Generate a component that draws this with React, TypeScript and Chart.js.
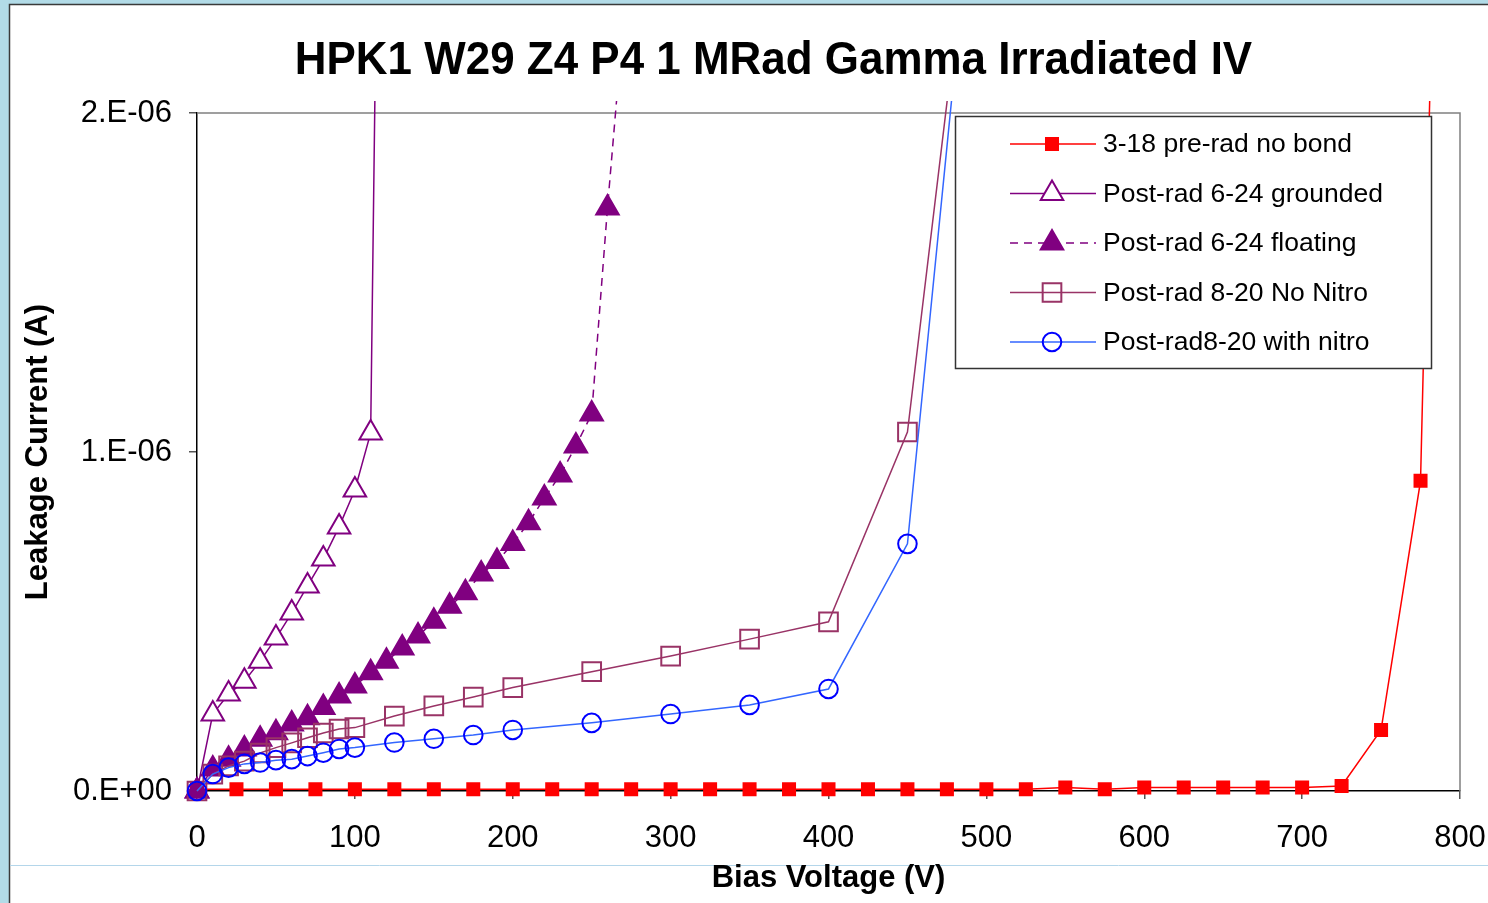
import React, { useEffect, useRef } from "react";
import { Chart, registerables } from "chart.js";

Chart.register(...registerables);

// ---------- data ----------
const chartTitle = "HPK1 W29 Z4 P4 1 MRad Gamma Irradiated IV";
const xAxisTitle = "Bias Voltage (V)";
const yAxisTitle = "Leakage Current (A)";
const yTickLabels = ["0.E+00", "1.E-06", "2.E-06"];

const seriesNames = [
  "3-18 pre-rad no bond",
  "Post-rad 6-24 grounded",
  "Post-rad 6-24 floating",
  "Post-rad 8-20 No Nitro",
  "Post-rad8-20 with nitro",
];

const preRadV = [0, 25, 50, 75, 100, 125, 150, 175, 200, 225, 250, 275, 300, 325, 350, 375, 400, 425, 450, 475, 500, 525, 550, 575, 600, 625, 650, 675, 700, 725, 750, 775, 785];
const preRadI = [5e-9, 5e-9, 5e-9, 5e-9, 5e-9, 5e-9, 5e-9, 5e-9, 5e-9, 5e-9, 5e-9, 5e-9, 5e-9, 5e-9, 5e-9, 5e-9, 5e-9, 5e-9, 5e-9, 5e-9, 5e-9, 5e-9, 1e-8, 5e-9, 1e-8, 1e-8, 1e-8, 1e-8, 1e-8, 1.5e-8, 1.8e-7, 9.15e-7, 2.85e-6];

const groundedV = [0, 10, 20, 30, 40, 50, 60, 70, 80, 90, 100, 110, 115];
const groundedI = [0, 2.27e-7, 2.86e-7, 3.24e-7, 3.83e-7, 4.51e-7, 5.25e-7, 6.05e-7, 6.84e-7, 7.79e-7, 8.88e-7, 1.056e-6, 2.9e-6];

const floatingV = [0, 10, 20, 30, 40, 50, 60, 70, 80, 90, 100, 110, 120, 130, 140, 150, 160, 170, 180, 190, 200, 210, 220, 230, 240, 250, 260, 270];
const floatingI = [0, 6.5e-8, 9.4e-8, 1.24e-7, 1.53e-7, 1.72e-7, 1.98e-7, 2.16e-7, 2.46e-7, 2.8e-7, 3.1e-7, 3.49e-7, 3.83e-7, 4.22e-7, 4.57e-7, 5.01e-7, 5.45e-7, 5.85e-7, 6.4e-7, 6.77e-7, 7.3e-7, 7.91e-7, 8.64e-7, 9.32e-7, 1.018e-6, 1.112e-6, 1.72e-6, 2.27e-6];

const noNitroV = [0, 10, 20, 30, 40, 50, 60, 70, 80, 90, 100, 125, 150, 175, 200, 250, 300, 350, 400, 450, 500];
const noNitroI = [0, 5.0e-8, 7.4e-8, 8.8e-8, 1.12e-7, 1.28e-7, 1.42e-7, 1.57e-7, 1.71e-7, 1.83e-7, 1.87e-7, 2.21e-7, 2.51e-7, 2.77e-7, 3.05e-7, 3.52e-7, 3.98e-7, 4.48e-7, 4.99e-7, 1.059e-6, 3.0e-6];

const nitroV = [0, 10, 20, 30, 40, 50, 60, 70, 80, 90, 100, 125, 150, 175, 200, 250, 300, 350, 400, 450, 500];
const nitroI = [0, 5.0e-8, 6.9e-8, 8.0e-8, 8.4e-8, 9.1e-8, 9.4e-8, 1.03e-7, 1.13e-7, 1.24e-7, 1.28e-7, 1.43e-7, 1.54e-7, 1.65e-7, 1.8e-7, 2.01e-7, 2.27e-7, 2.54e-7, 3.01e-7, 7.29e-7, 3.07e-6];

// ---------- styles ----------
const FONT = "'Liberation Sans', Arial, Helvetica, sans-serif";

type MarkerStyle = {
  color: string;
  markerBorder: string;
  markerFill: string;
  pointStyle: string;
  radius: number;
  dash: number[];
};

const styles: MarkerStyle[] = [
  { color: "#FF0000", markerBorder: "#FF0000", markerFill: "#FF0000", pointStyle: "rect", radius: 8.5, dash: [] },
  { color: "#800080", markerBorder: "#800080", markerFill: "#FFFFFF", pointStyle: "triangle", radius: 13, dash: [] },
  { color: "#800080", markerBorder: "#800080", markerFill: "#800080", pointStyle: "triangle", radius: 13, dash: [8, 6] },
  { color: "#993366", markerBorder: "#993366", markerFill: "rgba(0,0,0,0)", pointStyle: "rect", radius: 13.2, dash: [] },
  { color: "#3366FF", markerBorder: "#0000FF", markerFill: "rgba(0,0,0,0)", pointStyle: "circle", radius: 9.3, dash: [] },
];

function toPoints(xs: number[], ys: number[]) {
  return xs.map((x, i) => ({ x, y: ys[i] }));
}

function drawMarker(ctx: CanvasRenderingContext2D, s: MarkerStyle, x: number, y: number) {
  ctx.save();
  ctx.setLineDash([]);
  ctx.beginPath();
  const r = s.radius;
  if (s.pointStyle === "rect") {
    const h = r * Math.SQRT1_2;
    ctx.rect(x - h, y - h, 2 * h, 2 * h);
  } else if (s.pointStyle === "triangle") {
    let rad = 0;
    ctx.moveTo(x + Math.sin(rad) * r, y - Math.cos(rad) * r);
    rad += (2 * Math.PI) / 3;
    ctx.lineTo(x + Math.sin(rad) * r, y - Math.cos(rad) * r);
    rad += (2 * Math.PI) / 3;
    ctx.lineTo(x + Math.sin(rad) * r, y - Math.cos(rad) * r);
    ctx.closePath();
  } else {
    ctx.arc(x, y, r, 0, Math.PI * 2);
  }
  ctx.fillStyle = s.markerFill;
  ctx.fill();
  ctx.lineWidth = 2;
  ctx.strokeStyle = s.markerBorder;
  ctx.stroke();
  ctx.restore();
}

const decorPlugin = {
  id: "decor",
  beforeDraw(chart: any) {
    const ctx: CanvasRenderingContext2D = chart.ctx;
    const W = chart.width;
    const H = chart.height;
    ctx.save();
    ctx.fillStyle = "#B2DBE7";
    ctx.fillRect(0, 0, W, H);
    ctx.fillStyle = "#FFFFFF";
    ctx.fillRect(10, 5, W - 10, H - 5);
    ctx.strokeStyle = "#3A3A3A";
    ctx.lineWidth = 1.5;
    ctx.beginPath();
    ctx.moveTo(9.5, H);
    ctx.lineTo(9.5, 4.5);
    ctx.lineTo(W, 4.5);
    ctx.stroke();
    ctx.strokeStyle = "#B4D6EA";
    ctx.lineWidth = 1;
    ctx.beginPath();
    ctx.moveTo(10, 865.5);
    ctx.lineTo(W, 865.5);
    ctx.stroke();
    ctx.restore();
  },
  beforeDatasetsDraw(chart: any) {
    const ctx: CanvasRenderingContext2D = chart.ctx;
    const a = chart.chartArea;
    ctx.save();
    ctx.strokeStyle = "#808080";
    ctx.lineWidth = 1.5;
    ctx.beginPath();
    ctx.moveTo(a.left, a.top);
    ctx.lineTo(a.right, a.top);
    ctx.lineTo(a.right, a.bottom);
    ctx.stroke();
    ctx.restore();
  },
  afterDraw(chart: any) {
    const ctx: CanvasRenderingContext2D = chart.ctx;
    ctx.save();
    // title (slightly condensed like the original)
    ctx.font = `bold 47px ${FONT}`;
    ctx.fillStyle = "#000";
    ctx.textBaseline = "alphabetic";
    ctx.textAlign = "center";
    ctx.translate(773.5, 74);
    ctx.scale(0.935, 1);
    ctx.fillText(chartTitle, 0, 0);
    ctx.restore();

    // legend
    ctx.save();
    const lx = 955, ly = 116, lw = 476, lh = 252;
    ctx.fillStyle = "#FFFFFF";
    ctx.fillRect(lx, ly, lw, lh);
    ctx.strokeStyle = "#333333";
    ctx.lineWidth = 1.5;
    ctx.strokeRect(lx + 0.5, ly + 0.5, lw, lh);
    const rowY = [144, 193.5, 243, 292.5, 342];
    ctx.font = `26.5px ${FONT}`;
    ctx.textBaseline = "middle";
    ctx.textAlign = "left";
    seriesNames.forEach((name, i) => {
      const s = styles[i];
      const y = rowY[i];
      ctx.save();
      ctx.strokeStyle = s.color;
      ctx.lineWidth = 1.5;
      ctx.setLineDash(s.dash);
      ctx.beginPath();
      ctx.moveTo(1010, y);
      ctx.lineTo(1096, y);
      ctx.stroke();
      ctx.restore();
      drawMarker(ctx, s, 1052, y);
      ctx.fillStyle = "#000";
      ctx.fillText(name, 1103, y + 1);
    });
    ctx.restore();
  },
};

const seriesX = [preRadV, groundedV, floatingV, noNitroV, nitroV];
const seriesY = [preRadI, groundedI, floatingI, noNitroI, nitroI];

export default function App() {
  const ref = useRef<HTMLCanvasElement | null>(null);

  useEffect(() => {
    document.body.style.margin = "0";
    const canvas = ref.current;
    if (!canvas) return;

    const datasets = seriesNames.map((name, i) => {
      const s = styles[i];
      return {
        label: name,
        data: toPoints(seriesX[i], seriesY[i]),
        borderColor: s.color,
        borderWidth: 1.5,
        borderDash: s.dash,
        backgroundColor: s.markerFill,
        pointStyle: s.pointStyle,
        pointRadius: s.radius,
        pointBorderWidth: 2,
        pointBorderColor: s.markerBorder,
        pointBackgroundColor: s.markerFill,
        tension: 0,
        fill: false,
        order: 5 - i,
        clip: { left: 20, top: 12, right: 20, bottom: 20 },
      };
    });

    const chart = new Chart(canvas, {
      type: "line",
      data: { datasets },
      plugins: [decorPlugin],
      options: {
        animation: false,
        responsive: false,
        maintainAspectRatio: false,
        devicePixelRatio: 1,
        layout: { padding: { left: 0, top: 113, right: 28, bottom: 0 } },
        plugins: {
          legend: { display: false },
          title: { display: false },
          tooltip: { enabled: false },
        },
        font: { family: FONT },
        scales: {
          x: {
            type: "linear",
            min: 0,
            max: 800,
            ticks: {
              stepSize: 100,
              color: "#000",
              padding: 21,
              maxRotation: 0,
              font: { family: FONT, size: 31 },
            },
            grid: { drawOnChartArea: false, drawTicks: true, tickLength: 8, color: "#555", lineWidth: 1.5 },
            border: { display: true, color: "#000", width: 1.5 },
            title: {
              display: true,
              text: xAxisTitle,
              color: "#000",
              font: { family: FONT, size: 31, weight: "bold" },
              padding: { top: 0, bottom: 6 },
            },
            afterFit: (scale: any) => {
              scale.height = 112;
              scale.paddingLeft = 0;
              scale.paddingRight = 0;
            },
          },
          y: {
            type: "linear",
            min: 0,
            max: 2e-6,
            ticks: {
              stepSize: 1e-6,
              color: "#000",
              padding: 17,
              font: { family: FONT, size: 31 },
              callback: (v: any) => {
                const idx = Math.round(Number(v) * 1e6);
                return yTickLabels[idx] ?? "";
              },
            },
            grid: { drawOnChartArea: false, drawTicks: true, tickLength: 8, color: "#555", lineWidth: 1.5 },
            border: { display: true, color: "#000", width: 1.5 },
            title: {
              display: true,
              text: yAxisTitle,
              color: "#000",
              font: { family: FONT, size: 31, weight: "bold" },
              padding: { top: 20, bottom: 0 },
            },
            afterFit: (scale: any) => {
              scale.width = 197;
              scale.paddingTop = 0;
              scale.paddingBottom = 0;
            },
          },
        },
      } as any,
    });

    return () => chart.destroy();
  }, []);

  return (
    <div style={{ position: "absolute", left: 0, top: 0, width: 1488, height: 903 }}>
      <canvas ref={ref} width={1488} height={903} style={{ display: "block", width: 1488, height: 903 }} />
    </div>
  );
}
